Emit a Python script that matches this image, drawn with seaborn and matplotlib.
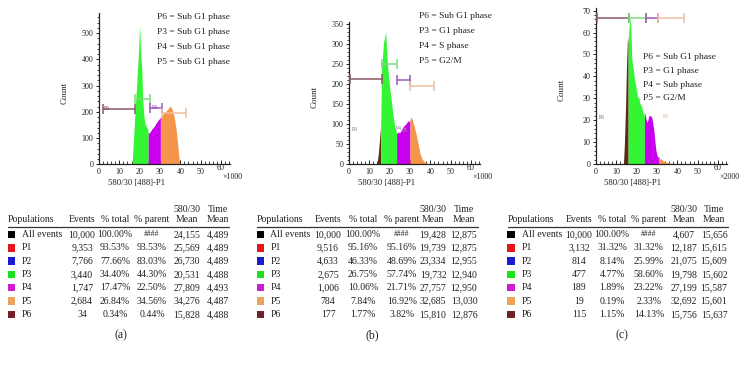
import matplotlib
matplotlib.use("Agg")
import matplotlib.pyplot as plt
from matplotlib.patches import Rectangle
from matplotlib.ticker import MultipleLocator
import numpy as np
import seaborn as sns

# ---- histogram (a): channel x1000, counts ----
a_x = [16.3, 17, 17.5, 18, 18.5, 19, 19.5, 20, 20.5, 21, 21.5, 22, 22.5, 23, 24,
       24.2, 25, 26, 27, 28, 29, 30,
       30.2, 31, 32, 33, 34, 35, 36, 37, 38, 39, 39.7]
a_count = [0, 100, 170, 240, 300, 370, 440, 530, 420, 370, 250, 190, 160, 145, 135,
           118, 122, 135, 143, 156, 168, 176,
           182, 188, 196, 203, 212, 222, 210, 180, 130, 50, 0]
a_starts = {'P3': 16.3, 'P4': 24.2, 'P5': 30.2}

# ---- histogram (b): channel x1000, counts ----
b_x = [13.8, 14.5, 15, 15.5,
       15.6, 16, 16.5, 17, 17.5, 18, 18.5, 19, 19.5, 20, 20.5, 21, 21.5, 22, 22.5, 23,
       23.4, 24, 25, 26, 27, 28, 29, 29.5,
       30, 30.5, 31, 32, 33, 34, 35, 36, 37, 38, 39, 40]
b_count = [0, 30, 60, 90,
           95, 230, 270, 305, 315, 330, 285, 245, 215, 190, 170, 150, 128, 110, 95, 85,
           75, 80, 78, 88, 95, 100, 108, 105,
           110, 118, 112, 95, 75, 50, 25, 12, 6, 3, 1, 0]
b_starts = {'P6': 13.8, 'P3': 15.6, 'P4': 23.4, 'P5': 30}

# ---- histogram (c): channel x2000, counts ----
c_x = [13.5, 14, 14.5, 15, 15.5,
       15.8, 16.2, 16.8, 17.2, 17.6, 18, 18.5, 19, 19.5, 20, 20.5, 21, 21.5, 22, 22.5, 23, 23.5,
       23.8, 24.5, 25, 25.5, 26, 26.5, 27, 27.5, 28, 28.5, 29, 29.5, 30, 30.5,
       31, 31.5, 32, 33, 34, 35, 36, 37, 38]
c_count = [0, 10, 25, 45, 58,
           55, 62, 67, 60, 48, 45, 42, 38, 36, 33, 30, 31, 28, 27, 26, 24, 22,
           24, 21, 19, 20, 22, 22, 22, 21, 18, 15, 10, 6, 4, 3,
           3.5, 2, 2.5, 1.5, 1, 0.7, 0.5, 0.3, 0]
c_starts = {'P6': 13.5, 'P3': 15.8, 'P4': 23.8, 'P5': 31}

# ---- gates: (name, x0, x1, count level) ----
a_gates = [('P6', 2, 17.5, 210), ('P3', 17.5, 25, 248), ('P4', 25, 31, 215), ('P5', 31, 43, 195)]
b_gates = [('P6', 0.7, 16, 212), ('P3', 16, 23.8, 249), ('P4', 23.8, 30, 210), ('P5', 30, 41.8, 195)]
c_gates = [('P6', 0.5, 16.2, 66.5), ('P3', 16.2, 24.6, 66.5), ('P4', 24.6, 30.5, 66.5), ('P5', 30.5, 43.3, 66.5)]

a_legend = ['P6 = Sub G1 phase', 'P3 = Sub G1 phase', 'P4 = Sub G1 phase', 'P5 = Sub G1 phase']
b_legend = ['P6 = Sub G1 phase', 'P3 = G1 phase', 'P4 = S phase', 'P5 = G2/M']
c_legend = ['P6 = Sub G1 phase', 'P3 = G1 phase', 'P4 = Sub phase', 'P5 = G2/M']

# ---- statistics tables ----
populations = ['All events', 'P1', 'P2', 'P3', 'P4', 'P5', 'P6']
a_events = [10000, 9353, 7766, 3440, 1747, 2684, 34]
a_total = [100.00, 93.53, 77.66, 34.40, 17.47, 26.84, 0.34]
a_parent = [None, 93.53, 83.03, 44.30, 22.50, 34.56, 0.44]
a_mean = [24155, 25569, 26730, 20531, 27809, 34276, 15828]
a_time = [4489, 4489, 4489, 4488, 4493, 4487, 4488]

b_events = [10000, 9516, 4633, 2675, 1006, 784, 177]
b_total = [100.00, 95.16, 46.33, 26.75, 10.06, 7.84, 1.77]
b_parent = [None, 95.16, 48.69, 57.74, 21.71, 16.92, 3.82]
b_mean = [19428, 19739, 23334, 19732, 27757, 32685, 15810]
b_time = [12875, 12875, 12955, 12940, 12950, 13030, 12876]

c_events = [10000, 3132, 814, 477, 189, 19, 115]
c_total = [100.00, 31.32, 8.14, 4.77, 1.89, 0.19, 1.15]
c_parent = [None, 31.32, 25.99, 58.60, 23.22, 2.33, 14.13]
c_mean = [4607, 12187, 21075, 19798, 27199, 32692, 15756]
c_time = [15656, 15615, 15609, 15602, 15587, 15601, 15637]

fill_colors = {'P6': '#5a2c14', 'P3': '#33f533', 'P4': '#c800ee', 'P5': '#f5954a'}
gate_colors = {'P6': '#8a5a66', 'P3': '#7fdc7f', 'P4': '#9a5ab8', 'P5': '#eec0a0'}
square_colors = ['#000000', '#e4151b', '#1a1acf', '#1be31b', '#d11bd1', '#eda25e', '#702028']

sns.set_style("ticks")
plt.rcParams['font.family'] = ['Liberation Serif', 'DejaVu Serif']

W, H = 746, 365
fig = plt.figure(figsize=(W / 100, H / 100), dpi=100)


def fx(x):
    return x / W


def fy(y):
    return 1 - y / H


def txt(x, y, s, size=7, ha='left', color='#222222', **kw):
    fig.text(fx(x), fy(y), s, fontsize=size, ha=ha, va='center', color=color, **kw)


def draw_hist(ax, xs, counts, starts):
    xs = np.asarray(xs, float)
    counts = np.asarray(counts, float)
    order = sorted(starts, key=starts.get)
    for i, name in enumerate(order):
        lo = starts[name]
        hi = starts[order[i + 1]] if i + 1 < len(order) else np.inf
        idx = np.where((xs >= lo) & (xs < hi))[0]
        if i + 1 < len(order):
            idx = np.append(idx, idx[-1] + 1)
        ax.fill_between(xs[idx], 0, counts[idx], color=fill_colors[name], lw=0, zorder=2)


def draw_gates(ax, gates):
    for name, x0, x1, y in gates:
        c = gate_colors[name]
        ax.plot([x0, x1], [y, y], color=c, lw=1.1, zorder=3)
        ax.plot([x0, x1], [y, y], ls='none', marker='|', ms=7, mew=1.1, color=c, zorder=3)


panels = [
    dict(x=a_x, count=a_count, starts=a_starts, gates=a_gates, rect=(99, 12.7, 164.3),
         ylim=578, major=100, minor=20, scale='\u00d71000', legend=a_legend,
         leg_xy=(157, 17, 15), ylab_x=65,
         tags=[('P6', 3.6, 211, '#7a2838'), ('P4', 27.3, 216, '#8a30a8')]),
    dict(x=b_x, count=b_count, starts=b_starts, gates=b_gates, rect=(349, 21.7, 164),
         ylim=355, major=50, minor=10, scale='\u00d71000', legend=b_legend,
         leg_xy=(419, 15.7, 15.1), ylab_x=315,
         tags=[('P6', 3, 87, '#7a6a8a'), ('P4', 24.5, 88, '#9a70b0'), ('P5', 27.5, 84, '#c8a0a8')]),
    dict(x=c_x, count=c_count, starts=c_starts, gates=c_gates, rect=(596, 8, 164),
         ylim=71.2, major=10, minor=2, scale='\u00d72000', legend=c_legend,
         leg_xy=(643, 57.3, 13.7), ylab_x=562,
         tags=[('P6', 3, 21, '#7a5a5a'), ('P5', 34.5, 21.5, '#e8a868')]),
]

for p in panels:
    left, top, bottom = p['rect']
    width = 64.5 * 122 / 60
    ax = fig.add_axes([fx(left), fy(bottom), width / W, (bottom - top) / H])
    draw_hist(ax, p['x'], p['count'], p['starts'])
    draw_gates(ax, p['gates'])
    for name, tx, ty, tc in p['tags']:
        ax.text(tx, ty, name, fontsize=4, color=tc, ha='center', va='center', zorder=4)
    ax.set_xlim(0, 64.5)
    ax.set_ylim(0, p['ylim'])
    ax.xaxis.set_major_locator(MultipleLocator(10))
    ax.xaxis.set_minor_locator(MultipleLocator(2))
    ax.yaxis.set_major_locator(MultipleLocator(p['major']))
    ax.yaxis.set_minor_locator(MultipleLocator(p['minor']))
    ax.set_xticks([0, 10, 20, 30, 40, 50, 60])
    ax.set_xticklabels(['0', '10', '20', '30', '40', '50', ''])
    ax.tick_params(axis='x', which='major', direction='in', length=3, width=0.7,
                   labelsize=5.8, pad=3, colors='#222222')
    ax.tick_params(axis='x', which='minor', direction='in', length=2, width=0.6)
    ax.tick_params(axis='y', which='major', direction='out', length=2.5, width=0.7,
                   labelsize=5.8, pad=1.5, colors='#222222')
    ax.tick_params(axis='y', which='minor', direction='out', length=1.5, width=0.6)
    for s in ('left', 'bottom'):
        ax.spines[s].set_linewidth(0.9)
        ax.spines[s].set_color('#222222')
    ax.patch.set_alpha(0)
    sns.despine(ax=ax)
    # the "60" label sits a little higher with the scale factor beneath it
    txt(left + 122, 168, '60', size=5.8, ha='center')
    txt(left + 133, 176.5, p['scale'], size=5.8, ha='center')
    txt(left + 37, 183, '580/30 [488]-P1', size=6.2, ha='center')
    txt(p['ylab_x'], (top + bottom) / 2 + 4, 'Count', size=6.5, ha='center', rotation=90)
    lx, ly, dy = p['leg_xy']
    for i, line in enumerate(p['legend']):
        txt(lx, ly + i * dy, line, size=6.8)

tables = [
    dict(left=8, cols=(82, 115, 152, 187, 218), right=229,
         data=(a_events, a_total, a_parent, a_mean, a_time), tag='(a)', tag_x=121),
    dict(left=257, cols=(328, 363, 402, 433, 464), right=478,
         data=(b_events, b_total, b_parent, b_mean, b_time), tag='(b)', tag_x=372),
    dict(left=508, cols=(579, 612, 649, 684, 714), right=728,
         data=(c_events, c_total, c_parent, c_mean, c_time), tag='(c)', tag_x=622),
]

for t in tables:
    left = t['left']
    c_ev, c_tot, c_par, c_mean, c_time = t['cols']
    txt(left, 220, 'Populations')
    txt(c_ev, 220, 'Events', ha='center')
    txt(c_tot, 220, '% total', ha='center')
    txt(c_par, 220, '% parent', ha='center')
    txt(c_mean, 210, '580/30', ha='center')
    txt(c_mean, 220, 'Mean', ha='center')
    txt(c_time, 210, 'Time', ha='center')
    txt(c_time, 220, 'Mean', ha='center')
    fig.add_artist(plt.Line2D([fx(left), fx(t['right'])], [fy(227), fy(227)],
                              transform=fig.transFigure, color='#333333', lw=0.9))
    ev, tot, par, mean, tim = t['data']
    for i, name in enumerate(populations):
        y = 234.5 + i * 13.3
        fig.add_artist(Rectangle((fx(left - 0.5), fy(y + 3.7)), 7.5 / W, 7.5 / H,
                                 transform=fig.transFigure, color=square_colors[i], lw=0))
        txt(left + 13.5, y, name)
        txt(c_ev, y, f'{ev[i]:,}', ha='center')
        txt(c_tot, y, f'{tot[i]:.2f}%', ha='center')
        txt(c_par, y, '####' if par[i] is None else f'{par[i]:.2f}%', ha='center',
            size=5.5 if par[i] is None else 7)
        txt(c_mean, y, f'{mean[i]:,}', ha='center')
        txt(c_time, y, f'{tim[i]:,}', ha='center')
    txt(t['tag_x'], 335, t['tag'], size=8.5, ha='center')

fig.savefig('out.png', dpi=100)
